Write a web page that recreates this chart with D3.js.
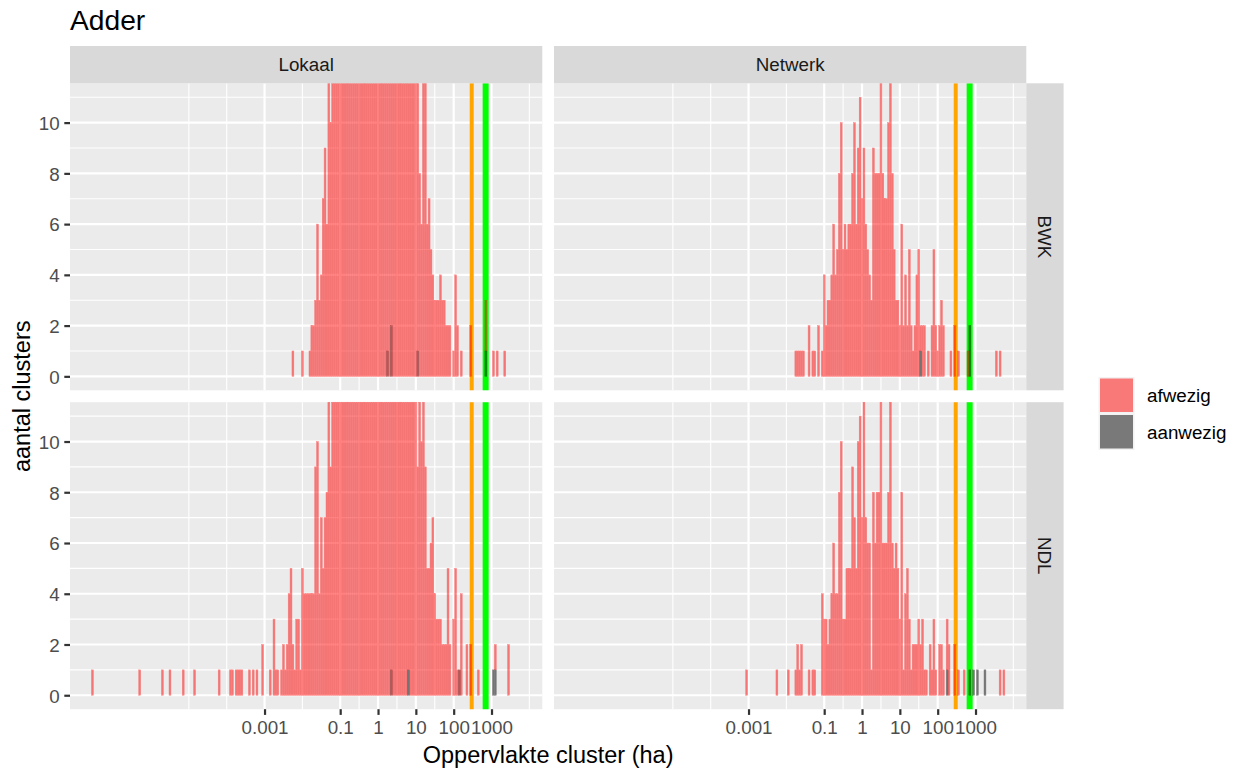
<!DOCTYPE html>
<html>
<head>
<meta charset="utf-8">
<script src="https://cdn.jsdelivr.net/npm/d3@7/dist/d3.min.js"></script>
<style>
html,body{margin:0;padding:0;background:#ffffff;}
svg{display:block;}
</style>
</head>
<body>
<svg id="chart" width="1240" height="771"></svg>
<script>
// ---------------- DATA ----------------
// Histogram bins: width 0.05 in log10(ha); each value is the count of the bin
// whose centre is start + i*0.05 (log10 ha). Counts above the y-limit are clipped
// in the picture and therefore estimated.
const BIN = 0.05;

const titleText = "Adder";
const colLabels = ["Lokaal", "Netwerk"];
const rowLabels = ["BWK", "NDL"];
const fillLabels = ["afwezig", "aanwezig"];
const xTitle = "Oppervlakte cluster (ha)";
const yTitle = "aantal clusters";

const xTickValues = [0.001, 0.1, 1, 10, 100, 1000];
const xTickLabels = ["0.001", "0.1", "1", "10", "100", "1000"];
const xMinorExp = [-5, -4, -2, -0.5, 0.5, 1.5, 2.5, 4];
const yTickValues = [0, 2, 4, 6, 8, 10];
const yMinorValues = [1, 3, 5, 7, 9, 11];
const yLimits = [0, 11];

const vlineValues = [300, 700];          // ha
const vlineColors = ["#FFA500", "#00FF00"];

// Lokaal / BWK
const lokaalBWK_afwezig_start = -2.25;
const lokaalBWK_afwezig = [
  1,0,0,0,0, 1,0,0,0,1, 2,2,3,6,3, 4,7,9,6,13,
  10,16,19,23,27, 32,38,44,51,58, 66,74,82,90,98, 105,112,118,124,128,
  131,136,135,140,137, 139,133,132,124,122, 113,109,99,94,84, 78,68,62,53,48,
  41,35,30,25,21, 17,12,8,6,13, 12,6,7,5,4, 3,3,3,4,3,
  3,2,2,2,0, 1,4,2,0,1, 0,0,0,0,2, 0,0,0,0,0,
  0,0,2,0,0, 0,1,0,1,0, 0,0,1
];
const lokaalBWK_aanwezig_bins = [0.25, 0.35, 1.05, 2.85];
const lokaalBWK_aanwezig = [1, 2, 1, 1];

// Netwerk / BWK
const netwerkBWK_afwezig_start = -1.75;
const netwerkBWK_afwezig = [
  1,1,1,1,1, 0,0,2,0,1, 1,0,2,0,1, 4,2,3,3,4,
  6,4,5,8,10, 5,6,5,6,6, 8,10,6,9,11, 7,9,6,5,4,
  3,9,8,8,8, 13,8,7,7,10, 13,8,5,3,3, 2,6,2,4,2,
  5,2,1,2,4, 5,1,2,2,0, 1,0,2,5,2, 1,2,3,2,0,
  0,0,1,0,2, 0,1,0,0,0, 0,1,0,0,0, 0,0,0,0,0,
  0,0,0,0,0, 0,1,0,1
];
const netwerkBWK_aanwezig_bins = [1.55, 2.85];
const netwerkBWK_aanwezig = [1, 2];

// Lokaal / NDL
const lokaalNDL_afwezig_start = -7.55;
const lokaalNDL_afwezig = [
  1,0,0,0,0, 0,0,0,0,0, 0,0,0,0,0, 0,0,0,0,0,
  0,0,0,0,0, 1,0,0,0,0, 0,0,0,0,0, 0,0,1,0,0,
  0,1,0,0,0, 0,0,0,1,0, 0,0,0,0,1, 0,0,0,0,0,
  0,0,0,0,0, 0,0,1,0,0, 0,0,0,1,1, 0,1,1,1,1,
  0,0,0,1,0, 1,0,1,0,0, 2,0,0,0,1, 0,3,1,1,0,
  1,2,1,2,4, 5,2,1,3,3, 1,5,4,4,4, 4,4,4,9,10,
  4,7,5,7,8, 14,9,17,20,24, 29,35,41,48,57, 64,73,82,90,99,
  108,117,124,131,137, 142,146,148,151,150, 149,146,143,138,131, 125,117,110,100,93,
  84,76,67,59,52, 45,38,30,26,21, 17,14,9,13,10, 14,9,5,5,6,
  7,4,3,3,3, 2,2,2,5,2, 0,3,5,1,0, 4,0,0,2,0,
  2,0,0,0,1, 0,0,0,0,0, 0,0,0,1,0, 0,0,0,0,0, 2
];
const lokaalNDL_aanwezig_bins = [0.35, 0.8, 2.15, 3.05, 3.1];
const lokaalNDL_aanwezig = [1, 1, 1, 1, 1];

// Netwerk / NDL
const netwerkNDL_afwezig_start = -3.05;
const netwerkNDL_afwezig = [
  1,0,0,0,0, 0,0,0,0,0, 0,0,0,0,0, 0,1,0,0,0,
  0,0,1,0,0, 0,1,2,1,2, 0,0,0,1,0, 1,1,0,0,0,
  4,3,3,2,3, 4,6,4,4,8, 10,3,3,5,5, 5,9,7,5,10,
  11,7,13,7,6, 6,1,8,6,8, 8,13,6,6,6, 8,13,6,5,6,
  5,3,8,1,4, 5,3,1,2,2, 2,3,2,3,1, 1,0,2,1,3,
  1,0,2,2,1, 0,2,2,0,0, 2,0,1,0,0, 1,0,0,0,0,
  0,0,0,0,0, 0,0,0,0,0, 0,0,0,0,1, 0,1
];
const netwerkNDL_aanwezig_bins = [2.25, 2.85, 2.95, 3.05, 3.25];
const netwerkNDL_aanwezig = [1, 1, 1, 1, 1];

// ---------------- DRAWING ----------------
const FONT = '"Liberation Sans", Arial, Helvetica, sans-serif';
const W = 1240, H = 771;
const FS = { tick: 18.8, strip: 18.8, legend: 18.8, axisTitle: 23.5, title: 28.2 };
const L = {
  colX: [70, 554], panelW: 472.3,
  rowY: [83.3, 402.2], panelH: 307,
  stripTop: 46, stripSize: 37.3, rightStripX: 1026.3
};
const fillColors = ["#FF0000", "#000000"];
const fillAlpha = 0.5;

const panels = [
  {col:0,row:0,start:lokaalBWK_afwezig_start,red:lokaalBWK_afwezig,grayBins:lokaalBWK_aanwezig_bins,gray:lokaalBWK_aanwezig},
  {col:1,row:0,start:netwerkBWK_afwezig_start,red:netwerkBWK_afwezig,grayBins:netwerkBWK_aanwezig_bins,gray:netwerkBWK_aanwezig},
  {col:0,row:1,start:lokaalNDL_afwezig_start,red:lokaalNDL_afwezig,grayBins:lokaalNDL_aanwezig_bins,gray:lokaalNDL_aanwezig},
  {col:1,row:1,start:netwerkNDL_afwezig_start,red:netwerkNDL_afwezig,grayBins:netwerkNDL_aanwezig_bins,gray:netwerkNDL_aanwezig}
];

// x range from the bins (shared across facets), expanded 5% each side
let lo = Infinity, hi = -Infinity;
panels.forEach(p => {
  p.red.forEach((n, i) => { if (n > 0) { const c = p.start + i * BIN; lo = Math.min(lo, c); hi = Math.max(hi, c); } });
  p.grayBins.forEach(c => { lo = Math.min(lo, c); hi = Math.max(hi, c); });
});
const e0 = lo - BIN / 2, e1 = hi + BIN / 2, ex = (e1 - e0) * 0.05;
const x = d3.scaleLog().domain([Math.pow(10, e0 - ex), Math.pow(10, e1 + ex)]).range([0, L.panelW]);
const ey = (yLimits[1] - yLimits[0]) * 0.05;
const y = d3.scaleLinear().domain([yLimits[0] - ey, yLimits[1] + ey]).range([L.panelH, 0]).clamp(true);

const svg = d3.select("#chart").attr("font-family", FONT);
svg.append("rect").attr("width", W).attr("height", H).attr("fill", "#ffffff");

const binKey = c => Math.round(c / BIN);

panels.forEach(p => {
  const g = svg.append("g").attr("transform", `translate(${L.colX[p.col]},${L.rowY[p.row]})`);
  g.append("rect").attr("width", L.panelW).attr("height", L.panelH).attr("fill", "#EBEBEB");

  // minor grid
  g.append("g").selectAll("line").data(xMinorExp).join("line")
    .attr("x1", d => x(Math.pow(10, d))).attr("x2", d => x(Math.pow(10, d)))
    .attr("y1", 0).attr("y2", L.panelH).attr("stroke", "#FFFFFF").attr("stroke-width", 1.1);
  g.append("g").selectAll("line").data(yMinorValues).join("line")
    .attr("x1", 0).attr("x2", L.panelW).attr("y1", d => y(d)).attr("y2", d => y(d))
    .attr("stroke", "#FFFFFF").attr("stroke-width", 1.1);
  // major grid
  g.append("g").selectAll("line").data(xTickValues).join("line")
    .attr("x1", d => x(d)).attr("x2", d => x(d))
    .attr("y1", 0).attr("y2", L.panelH).attr("stroke", "#FFFFFF").attr("stroke-width", 2.2);
  g.append("g").selectAll("line").data(yTickValues).join("line")
    .attr("x1", 0).attr("x2", L.panelW).attr("y1", d => y(d)).attr("y2", d => y(d))
    .attr("stroke", "#FFFFFF").attr("stroke-width", 2.2);

  // reference lines
  g.append("g").selectAll("line").data(vlineValues).join("line")
    .attr("x1", d => x(d)).attr("x2", d => x(d))
    .attr("y1", 0).attr("y2", L.panelH)
    .attr("stroke", (d, i) => vlineColors[i]).attr("stroke-width", (d, i) => i === 0 ? 4 : 6);

  // stacked histogram: aanwezig at the bottom, afwezig on top
  const grayMap = new Map(p.grayBins.map((c, i) => [binKey(c), p.gray[i]]));
  const grayBars = p.grayBins.map((c, i) => ({ c, base: 0, n: p.gray[i] }));
  const redBars = p.red.map((n, i) => ({ c: p.start + i * BIN, n }))
    .filter(d => d.n > 0)
    .map(d => ({ c: d.c, n: d.n, base: grayMap.get(binKey(d.c)) || 0 }));

  const drawBars = (data, color) => {
    g.append("g").attr("opacity", fillAlpha)
      .selectAll("rect").data(data).join("rect")
      .attr("x", d => x(Math.pow(10, d.c - BIN / 2)))
      .attr("width", d => x(Math.pow(10, d.c + BIN / 2)) - x(Math.pow(10, d.c - BIN / 2)))
      .attr("y", d => y(d.base + d.n))
      .attr("height", d => y(d.base) - y(d.base + d.n))
      .attr("fill", color).attr("stroke", color).attr("stroke-width", 0.45);
  };
  drawBars(grayBars, fillColors[1]);
  drawBars(redBars, fillColors[0]);

  // axes
  if (p.row === 1) {
    const ax = g.append("g").attr("transform", `translate(0,${L.panelH})`)
      .call(d3.axisBottom(x).tickValues(xTickValues).tickFormat((d, i) => xTickLabels[i])
        .tickSize(5.7).tickPadding(6.2));
    ax.select(".domain").remove();
    ax.attr("font-family", FONT).attr("font-size", FS.tick);
    ax.selectAll("line").attr("stroke", "#333333").attr("stroke-width", 2.2);
    ax.selectAll("text").attr("fill", "#4D4D4D");
  }
  if (p.col === 0) {
    const ay = g.append("g")
      .call(d3.axisLeft(y).tickValues(yTickValues).tickSize(5.7).tickPadding(4.6));
    ay.select(".domain").remove();
    ay.attr("font-family", FONT).attr("font-size", FS.tick);
    ay.selectAll("line").attr("stroke", "#333333").attr("stroke-width", 2.2);
    ay.selectAll("text").attr("fill", "#4D4D4D").attr("dy", "0.36em");
  }
});

// strips
colLabels.forEach((lab, c) => {
  svg.append("rect").attr("x", L.colX[c]).attr("y", L.stripTop)
    .attr("width", L.panelW).attr("height", L.stripSize).attr("fill", "#D9D9D9");
  svg.append("text").attr("x", L.colX[c] + L.panelW / 2).attr("y", L.stripTop + L.stripSize / 2)
    .attr("dy", "0.36em").attr("text-anchor", "middle").attr("font-size", FS.strip)
    .attr("fill", "#1A1A1A").text(lab);
});
rowLabels.forEach((lab, r) => {
  svg.append("rect").attr("x", L.rightStripX).attr("y", L.rowY[r])
    .attr("width", L.stripSize).attr("height", L.panelH).attr("fill", "#D9D9D9");
  svg.append("text")
    .attr("transform", `translate(${L.rightStripX + L.stripSize / 2},${L.rowY[r] + L.panelH / 2}) rotate(90)`)
    .attr("dy", "0.36em").attr("text-anchor", "middle").attr("font-size", FS.strip)
    .attr("fill", "#1A1A1A").text(lab);
});

// titles
svg.append("text").attr("x", 70).attr("y", 30).attr("font-size", FS.title).attr("fill", "#000").text(titleText);
svg.append("text").attr("x", (L.colX[0] + L.colX[1] + L.panelW) / 2).attr("y", 763)
  .attr("text-anchor", "middle").attr("font-size", FS.axisTitle).attr("fill", "#000").text(xTitle);
svg.append("text").attr("transform", `translate(30,${(L.rowY[0] + L.rowY[1] + L.panelH) / 2}) rotate(-90)`)
  .attr("text-anchor", "middle").attr("font-size", FS.axisTitle).attr("fill", "#000").text(yTitle);

// legend
const leg = svg.append("g").attr("transform", "translate(1098.5,377)");
fillLabels.forEach((lab, i) => {
  const k = leg.append("g").attr("transform", `translate(0,${i * 36.5})`);
  k.append("rect").attr("width", 36).attr("height", 36.5).attr("fill", "#F2F2F2");
  k.append("rect").attr("x", 1.5).attr("y", 1.5).attr("width", 33).attr("height", 33.5)
    .attr("fill", fillColors[i]).attr("fill-opacity", fillAlpha);
  k.append("text").attr("x", 48.5).attr("y", 18.5).attr("dy", "0.36em")
    .attr("font-size", FS.legend).attr("fill", "#000").text(lab);
});
</script>
</body>
</html>
